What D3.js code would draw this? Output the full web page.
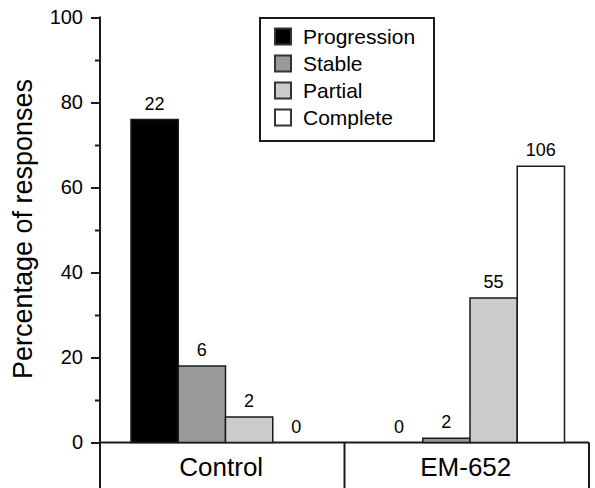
<!DOCTYPE html>
<html><head><meta charset="utf-8">
<script src="https://cdn.jsdelivr.net/npm/d3@7"></script>
<style>body{margin:0;background:#fff}svg{display:block}text{font-family:"Liberation Sans",Arial,Helvetica,sans-serif;fill:#000}</style>
</head><body><svg id="c" width="595" height="488"></svg>
<script>
const categories = ["Control", "EM-652"];
const series = ["Progression", "Stable", "Partial", "Complete"];
const colors = ["#000000", "#999999", "#cccccc", "#ffffff"];
const percentControl = [76, 18, 6, 0];
const percentEM = [0, 1, 34, 65];
const countsControl = [22, 6, 2, 0];
const countsEM = [0, 2, 55, 106];
const yTicks = [0, 20, 40, 60, 80, 100];
const yMinorTicks = [10, 30, 50, 70, 90];

const svg = d3.select("#c");
const y = d3.scaleLinear().domain([0, 100]).range([442.5, 17.5]);
const x0 = d3.scaleBand().domain(categories).range([100, 589]);
const x1 = d3.scaleBand().domain(series).range([31, 220]);

const data = [
  {cat: "Control", vals: percentControl, counts: countsControl},
  {cat: "EM-652", vals: percentEM, counts: countsEM}
];

const stroke = "#1a1a1a";
svg.append("line").attr("x1", x0("EM-652")).attr("x2", x0("EM-652")).attr("y1", y(0)).attr("y2", 490).attr("stroke", stroke).attr("stroke-width", 2);
svg.append("line").attr("x1", 589).attr("x2", 589).attr("y1", y(0)).attr("y2", 490).attr("stroke", stroke).attr("stroke-width", 2);
svg.append("line").attr("x1", 100).attr("x2", 589).attr("y1", y(0)).attr("y2", y(0)).attr("stroke", stroke).attr("stroke-width", 2);
svg.selectAll(".cat").data(categories).join("text")
  .attr("x", d => x0(d) + x0.bandwidth()/2 - 1).attr("y", 476)
  .attr("text-anchor", "middle").style("font-size", "26px").text(d => d);

data.forEach(g => {
  const gg = svg.append("g").attr("transform", `translate(${x0(g.cat)},0)`);
  series.forEach((s, i) => {
    const v = g.vals[i];
    if (v > 0) {
      gg.append("rect").attr("x", x1(s)).attr("width", x1.bandwidth())
        .attr("y", y(v)).attr("height", y(0) - y(v))
        .attr("fill", colors[i]).attr("stroke", stroke).attr("stroke-width", 1.5);
    }
    gg.append("text").attr("x", x1(s) + x1.bandwidth()/2).attr("y", y(v) - 10)
      .attr("text-anchor", "middle").style("font-size", "18px").text(g.counts[i]);
  });
});

const yAxis = d3.axisLeft(y).tickValues(yTicks).tickSize(9).tickPadding(8);
const ag = svg.append("g").attr("transform", "translate(100,0)").call(yAxis);
ag.select(".domain").remove();
ag.selectAll(".tick line").attr("stroke", stroke).attr("stroke-width", 2);
ag.selectAll(".tick text").style("font-size", "20px").style("font-family", "Liberation Sans, Arial, sans-serif").attr("fill", "#000");
const mg = svg.append("g").attr("transform", "translate(100,0)").call(d3.axisLeft(y).tickValues(yMinorTicks).tickSize(5).tickFormat(""));
mg.select(".domain").remove();
mg.selectAll(".tick line").attr("stroke", stroke).attr("stroke-width", 2);
svg.append("line").attr("x1", 100).attr("x2", 100).attr("y1", y(100) - 1).attr("y2", 490).attr("stroke", stroke).attr("stroke-width", 2);

svg.append("text").attr("transform", `translate(32,229) rotate(-90)`)
  .attr("text-anchor", "middle").style("font-size", "27px").text("Percentage of responses");

const lg = svg.append("g").attr("transform", "translate(260,18)");
lg.append("rect").attr("width", 174).attr("height", 123).attr("fill", "#fff").attr("stroke", stroke).attr("stroke-width", 2);
series.forEach((s, i) => {
  const cy = 18.5 + i * 27;
  lg.append("rect").attr("x", 15).attr("y", cy - 8).attr("width", 16).attr("height", 16)
    .attr("fill", colors[i]).attr("stroke", "#333").attr("stroke-width", 2);
  lg.append("text").attr("x", 43).attr("y", cy + 7.5).style("font-size", "21px").text(s);
});
</script></body></html>
